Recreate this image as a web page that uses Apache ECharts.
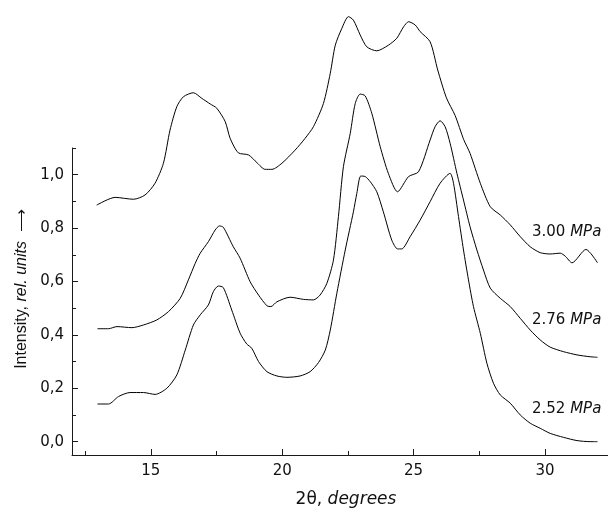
<!DOCTYPE html>
<html>
<head>
<meta charset="utf-8">
<script src="https://cdn.jsdelivr.net/npm/echarts@6/dist/echarts.min.js"></script>
<style>
html,body{margin:0;padding:0;background:#fff;}
#chart{width:608px;height:511px;}
</style>
</head>
<body>
<div id="chart"></div>
<script>
// ---- data (2θ in degrees, intensity in rel. units) ----
const theta300 = [12.94,13.64,14.34,14.78,15.16,15.48,15.73,15.99,16.24,16.62,16.94,17.26,17.51,17.83,18.02,18.33,18.72,19.04,19.35,19.61,19.99,20.49,20.87,21.19,21.57,21.83,22.02,22.27,22.52,22.71,22.97,23.22,23.60,24.04,24.36,24.62,24.81,25.06,25.25,25.63,25.92,26.25,26.58,26.91,27.15,27.54,27.92,28.30,28.68,29.06,29.44,29.82,30.20,30.58,30.77,31.03,31.56,32.00];
const int300 = [0.886,0.915,0.908,0.924,0.968,1.043,1.167,1.255,1.292,1.307,1.286,1.265,1.249,1.199,1.136,1.082,1.074,1.045,1.020,1.020,1.043,1.092,1.136,1.180,1.267,1.380,1.485,1.548,1.592,1.579,1.523,1.479,1.464,1.485,1.511,1.554,1.573,1.561,1.536,1.498,1.392,1.288,1.222,1.131,1.080,0.968,0.880,0.849,0.812,0.768,0.730,0.708,0.703,0.706,0.695,0.670,0.720,0.670];

const theta276 = [12.97,13.39,13.71,14.28,14.72,15.23,15.67,16.12,16.43,16.69,16.88,17.19,17.45,17.61,17.76,18.14,18.40,18.78,19.10,19.42,19.57,19.80,20.30,20.81,21.19,21.44,21.70,21.95,22.14,22.33,22.59,22.78,22.97,23.16,23.41,23.73,24.04,24.39,24.81,25.19,25.63,25.82,26.01,26.20,26.39,26.65,26.90,27.15,27.41,27.66,27.92,28.30,28.68,29.06,29.44,29.82,30.20,30.71,31.22,31.72,32.00];
const int276 = [0.423,0.423,0.431,0.427,0.437,0.456,0.487,0.537,0.606,0.668,0.706,0.749,0.793,0.808,0.803,0.730,0.687,0.599,0.549,0.509,0.506,0.524,0.541,0.533,0.531,0.549,0.593,0.680,0.843,1.030,1.155,1.267,1.302,1.295,1.230,1.105,1.005,0.936,0.993,1.011,1.130,1.180,1.202,1.180,1.118,1.005,0.905,0.805,0.718,0.643,0.575,0.537,0.506,0.462,0.418,0.381,0.354,0.337,0.325,0.318,0.316];

const theta252 = [12.97,13.39,13.77,14.21,14.72,15.16,15.61,15.99,16.31,16.62,16.88,17.19,17.38,17.57,17.76,18.08,18.40,18.65,18.84,19.10,19.42,19.80,20.18,20.68,21.06,21.38,21.64,21.83,22.08,22.40,22.71,22.84,22.99,23.16,23.35,23.60,23.85,24.17,24.39,24.55,24.87,25.25,25.63,26.01,26.39,26.52,26.71,26.90,27.09,27.28,27.54,27.79,28.04,28.30,28.68,29.06,29.44,29.82,30.20,30.71,31.22,31.72,32.00];
const int252 = [0.141,0.141,0.169,0.184,0.184,0.177,0.200,0.250,0.343,0.437,0.475,0.512,0.562,0.583,0.577,0.493,0.406,0.366,0.350,0.300,0.262,0.246,0.241,0.246,0.262,0.296,0.343,0.418,0.556,0.718,0.861,0.930,0.995,0.993,0.974,0.936,0.861,0.755,0.722,0.722,0.768,0.830,0.899,0.968,1.005,0.968,0.843,0.718,0.606,0.506,0.406,0.294,0.219,0.175,0.144,0.100,0.069,0.050,0.031,0.016,0.004,0.000,0.000];

const seriesNames = ['3.00 MPa','2.76 MPa','2.52 MPa'];
const xTicks = [15,20,25,30];
const xMinorTicks = [12.5,17.5,22.5,27.5];
const yTicks = [0,0.2,0.4,0.6,0.8,1.0];
const yMinorTicks = [0.1,0.3,0.5,0.7,0.9,1.1];

// ---- chart ----
const zip = (xs, ys) => xs.map((x, i) => [x, ys[i]]);
const chart = echarts.init(document.getElementById('chart'), null, {renderer: 'canvas'});
const AX = '#1a1a1a';
const tickFont = {fontFamily: 'DejaVu Sans', fontSize: 15, color: '#111'};

const baseX = {
  type: 'value', min: 12, max: 32.4, gridIndex: 0, position: 'bottom',
  splitLine: {show: false}
};
const baseY = {
  type: 'value', min: -0.05, max: 1.1, gridIndex: 0, position: 'left',
  splitLine: {show: false}
};

const option = {
  animation: false,
  backgroundColor: '#fff',
  grid: {left: 72, right: 0, top: 148, bottom: 56, containLabel: false},
  xAxis: [
    Object.assign({}, baseX, {
      axisLine: {show: true, onZero: false, lineStyle: {color: AX, width: 1}},
      axisTick: {show: true, inside: true, length: 6, lineStyle: {color: AX}, customValues: xTicks},
      axisLabel: Object.assign({show: true, margin: 9, customValues: xTicks, formatter: v => String(v)}, tickFont)
    }),
    Object.assign({}, baseX, {
      offset: 0,
      axisLine: {show: false, onZero: false},
      axisTick: {show: true, inside: true, length: 4, lineStyle: {color: AX}, customValues: xMinorTicks},
      axisLabel: {show: false}
    })
  ],
  yAxis: [
    Object.assign({}, baseY, {
      axisLine: {show: true, onZero: false, lineStyle: {color: AX, width: 1}},
      axisTick: {show: true, inside: true, length: 6, lineStyle: {color: AX}, customValues: yTicks},
      axisLabel: Object.assign({show: true, margin: 8, customValues: yTicks, formatter: v => v.toFixed(1).replace('.', ',')}, tickFont)
    }),
    Object.assign({}, baseY, {
      offset: 0,
      axisLine: {show: false, onZero: false},
      axisTick: {show: true, inside: true, length: 4, lineStyle: {color: AX}, customValues: yMinorTicks},
      axisLabel: {show: false}
    })
  ],
  series: [
    {name: seriesNames[0], data: zip(theta300, int300)},
    {name: seriesNames[1], data: zip(theta276, int276)},
    {name: seriesNames[2], data: zip(theta252, int252)}
  ].map(s => Object.assign({
    type: 'line', xAxisIndex: 0, yAxisIndex: 0,
    showSymbol: false, smooth: 0.25, clip: false,
    lineStyle: {color: '#000', width: 1},
    emphasis: {disabled: true}
  }, s)),
  graphic: [
    {
      type: 'text', x: 22, y: 289, rotation: Math.PI / 2,
      style: {
        text: '{n|Intensity, }{i|rel. units}{n|  ⟶}',
        align: 'center', verticalAlign: 'middle', fill: '#111',
        rich: {
          n: {fontFamily: 'Liberation Sans', fontSize: 16, fill: '#111'},
          i: {fontFamily: 'Liberation Sans', fontSize: 16, fontStyle: 'italic', fill: '#111'}
        }
      }
    },
    {
      type: 'text', x: 346, y: 500,
      style: {
        text: '{n|2θ, }{i|degrees}',
        align: 'center', verticalAlign: 'middle', fill: '#111',
        rich: {
          n: {fontFamily: 'DejaVu Sans', fontSize: 17, fill: '#111'},
          i: {fontFamily: 'DejaVu Sans', fontSize: 17, fontStyle: 'italic', fill: '#111'}
        }
      }
    }
  ].concat([[232, 0], [320, 1], [409, 2]].map(([yy, k]) => {
    const parts = seriesNames[k].split(' ');
    return {
      type: 'text', x: 532, y: yy,
      style: {
        text: '{n|' + parts[0] + ' }{i|' + parts[1] + '}',
        align: 'left', verticalAlign: 'middle', fill: '#111',
        rich: {
          n: {fontFamily: 'DejaVu Sans', fontSize: 15, fill: '#111'},
          i: {fontFamily: 'DejaVu Sans', fontSize: 15, fontStyle: 'italic', fill: '#111'}
        }
      }
    };
  }))
};
chart.setOption(option);
</script>
</body>
</html>
